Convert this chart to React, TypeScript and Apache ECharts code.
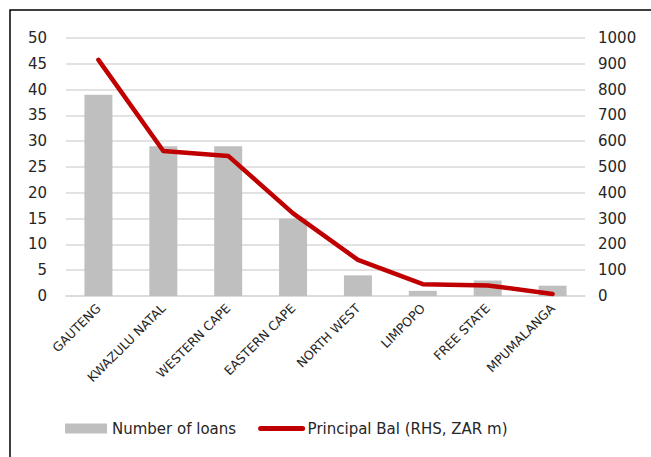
import React, { useEffect, useRef } from "react";
import * as echarts from "echarts";

const categories = [
  "GAUTENG",
  "KWAZULU NATAL",
  "WESTERN CAPE",
  "EASTERN CAPE",
  "NORTH WEST",
  "LIMPOPO",
  "FREE STATE",
  "MPUMALANGA",
];
const numberOfLoans = [39, 29, 29, 15, 4, 1, 3, 2];
const principalBal = [915, 562, 543, 320, 140, 46, 41, 8];

const FONT = "DejaVu Sans";

export default function App() {
  const ref = useRef<HTMLDivElement>(null);
  useEffect(() => {
    if (!ref.current) return;
    const chart = echarts.init(ref.current, undefined, { renderer: "svg" });
    chart.setOption({
      animation: false,
      backgroundColor: "#ffffff",
      graphic: [
        {
          type: "polyline",
          shape: { points: [[10, 470], [10, 10], [660, 10]] },
          style: { stroke: "#000000", lineWidth: 1.5, fill: "none" },
          z: 100,
        },
      ],
      grid: { left: 66, right: 66, top: 38, bottom: 161 },
      legend: {
        left: 60,
        top: 416,
        itemWidth: 42,
        itemHeight: 10,
        itemGap: 22,
        textStyle: { fontFamily: FONT, fontSize: 15, color: "#262626" },
        data: [
          { name: "Number of loans", icon: "rect" },
          {
            name: "Principal Bal (RHS, ZAR m)",
            itemStyle: { opacity: 0 },
            lineStyle: { width: 5, cap: "round", color: "#C00000" },
          },
        ],
      },
      xAxis: {
        type: "category",
        data: categories,
        axisLine: { show: true, lineStyle: { color: "#D9D9D9", width: 1.5 } },
        axisTick: { show: false },
        axisLabel: {
          rotate: 45,
          interval: 0,
          margin: 10,
          fontFamily: FONT,
          fontSize: 12.5,
          color: "#262626",
        },
      },
      yAxis: [
        {
          type: "value",
          min: 0,
          max: 50,
          interval: 5,
          axisLine: { show: false },
          axisTick: { show: false },
          splitLine: { lineStyle: { color: "#D9D9D9", width: 1.5 } },
          axisLabel: { margin: 19, fontFamily: FONT, fontSize: 15, color: "#262626" },
        },
        {
          type: "value",
          min: 0,
          max: 1000,
          interval: 100,
          position: "right",
          axisLine: { show: false },
          axisTick: { show: false },
          splitLine: { show: false },
          axisLabel: {
            margin: 13,
            fontFamily: FONT,
            fontSize: 15,
            color: "#262626",
            formatter: (v: number) => String(v),
          },
        },
      ],
      series: [
        {
          name: "Number of loans",
          type: "bar",
          data: numberOfLoans,
          barWidth: 28,
          itemStyle: { color: "#BFBFBF" },
          yAxisIndex: 0,
        },
        {
          name: "Principal Bal (RHS, ZAR m)",
          type: "line",
          data: principalBal,
          yAxisIndex: 1,
          symbol: "none",
          lineStyle: { color: "#C00000", width: 4.5, cap: "round", join: "round" },
          itemStyle: { color: "#C00000" },
        },
      ],
    });
    return () => chart.dispose();
  }, []);
  return (
    <div
      ref={ref}
      style={{ position: "fixed", left: 0, top: 0, width: 651, height: 457 }}
    />
  );
}
